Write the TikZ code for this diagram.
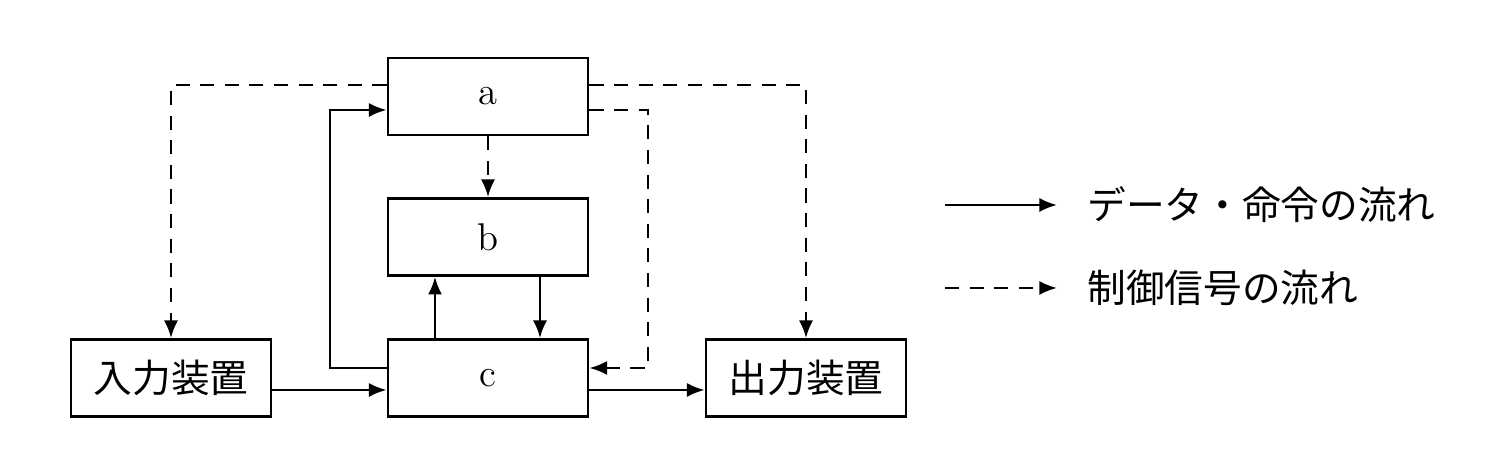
\documentclass[tikz,border=0pt]{standalone}
\usepackage{fontspec}
\newfontfamily\cjk{Noto Sans CJK JP}
\usetikzlibrary{arrows.meta}
\begin{document}
\begin{tikzpicture}[x=0.01cm,y=-0.01cm,
  box/.style={draw,line width=0.8pt,minimum width=2cm,minimum height=0.77cm,inner sep=0pt,font=\fontsize{11}{13}\selectfont},
  sol/.style={line width=0.7pt,-{Latex[length=5pt,width=4pt]}},
  dsh/.style={sol,dash pattern=on 4pt off 3pt}]
\useasboundingbox (0,0) rectangle (1490,462);
\node[box] (a) at (488,96.5) {a};
\node[box] (b) at (488,237) {b};
\node[box] (c) at (488,378) {c};
\node[box,font=\cjk\fontsize{11}{13}\selectfont] (in) at (171,378) {入力装置};
\node[box,font=\cjk\fontsize{11}{13}\selectfont] (out) at (806,378) {出力装置};
\draw[dsh] (a.west|-0,85) -| (in.north);
\draw[dsh] (a.east|-0,85) -| (out.north);
\draw[dsh] (a) -- (b);
\draw[dsh] (a.east|-0,110) -- (648,110) |- (c.east|-0,368);
\draw[sol] (c.west|-0,368) -- (330,368) |- (a.west|-0,110);
\draw[sol] (c.north-|435,0) -- (b.south-|435,0);
\draw[sol] (b.south-|540,0) -- (c.north-|540,0);
\draw[sol] (in.east|-0,390) -- (c.west|-0,390);
\draw[sol] (c.east|-0,390) -- (out.west|-0,390);
\coordinate (l1) at (945,205); \coordinate (l1e) at (1057,205);
\coordinate (l2) at (945,288); \coordinate (l2e) at (1057,288);
\draw[sol] (l1) -- (l1e);
\draw[dsh] (l2) -- (l2e);
\node[anchor=west,font=\cjk\fontsize{11}{13}\selectfont] (t1) at (1075,205) {データ・命令の流れ};
\node[anchor=west,font=\cjk\fontsize{11}{13}\selectfont] (t2) at (1075,288) {制御信号の流れ};
\end{tikzpicture}
\end{document}
